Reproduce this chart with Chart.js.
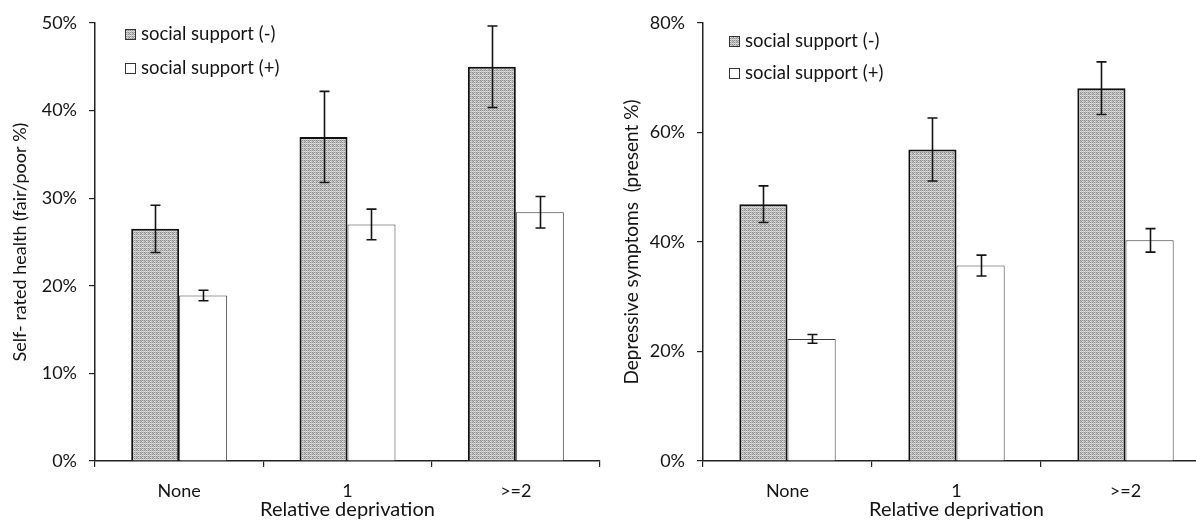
<!DOCTYPE html>
<html>
<head>
<meta charset="utf-8">
<script src="https://cdn.jsdelivr.net/npm/chart.js@4.4.1/dist/chart.umd.min.js"></script>
<style>
  html, body { margin: 0; padding: 0; background: #ffffff; overflow: hidden; }
  body { width: 1196px; height: 522px; position: relative; }
  canvas { position: absolute; top: 0; }
  #health { left: 0; }
  #depress { left: 600px; }
</style>
</head>
<body>
<canvas id="health" width="604" height="522"></canvas>
<canvas id="depress" width="614" height="522"></canvas>
<script>
// Categories of relative deprivation
const categories = ['None', '1', '>=2'];
const seriesNames = ['social support (-)', 'social support (+)'];

// Self-rated health (fair/poor %), means and error half-widths
const healthLow = [26.5, 37.0, 45.0];
const healthLowErr = [2.7, 5.2, 4.65];
const healthHigh = [18.9, 27.0, 28.4];
const healthHighErr = [0.6, 1.75, 1.8];

// Depressive symptoms (present %), means and error half-widths
const depLow = [46.9, 56.9, 68.1];
const depLowErr = [3.35, 5.75, 4.8];
const depHigh = [22.3, 35.7, 40.3];
const depHighErr = [0.8, 1.9, 2.15];

// Y tick values
const healthTicks = [0, 10, 20, 30, 40, 50];
const depTicks = [0, 20, 40, 60, 80];

const FONT = 'Lato, "Open Sans", sans-serif';
const INK = '#141414';

// Stippled grey fill used for the "(-)" bars (ordered-dither tile)
function stipple() {
  const bayer = [[0, 8, 2, 10], [12, 4, 14, 6], [3, 11, 1, 9], [15, 7, 13, 5]];
  const c = document.createElement('canvas');
  c.width = 4; c.height = 4;
  const g = c.getContext('2d');
  for (let y = 0; y < 4; y++) {
    for (let x = 0; x < 4; x++) {
      const t = bayer[y][x];
      g.fillStyle = t < 5 ? '#8e8e8e' : (t > 12 ? '#e4e4e4' : '#c3c3c3');
      g.fillRect(x, y, 1, 1);
    }
  }
  return g.createPattern(c, 'repeat');
}
const grey = stipple();

// Error bars with caps, drawn from each bar's value and its half-width
const errorBars = {
  id: 'errorBars',
  afterDatasetsDraw(chart) {
    const ctx = chart.ctx;
    const ys = chart.scales.y;
    ctx.save();
    ctx.strokeStyle = INK;
    ctx.lineWidth = 1.6;
    chart.data.datasets.forEach((ds, i) => {
      const meta = chart.getDatasetMeta(i);
      meta.data.forEach((bar, j) => {
        const v = ds.data[j], e = ds.errors[j];
        const top = ys.getPixelForValue(v + e);
        const bot = ys.getPixelForValue(v - e);
        const x = Math.round(bar.x) + 0.5;
        ctx.beginPath();
        ctx.moveTo(x, top); ctx.lineTo(x, bot);
        ctx.moveTo(x - 5, top); ctx.lineTo(x + 5, top);
        ctx.moveTo(x - 5, bot); ctx.lineTo(x + 5, bot);
        ctx.stroke();
      });
    });
    ctx.restore();
  }
};

// Legend placed inside the plot area
const boxLegend = {
  id: 'boxLegend',
  afterDraw(chart, args, opts) {
    const ctx = chart.ctx;
    const a = chart.chartArea;
    ctx.save();
    ctx.font = '18.5px ' + FONT;
    ctx.textBaseline = 'middle';
    chart.data.datasets.forEach((ds, i) => {
      const x = a.left + opts.dx;
      const y = a.top + opts.dy + i * opts.gap;
      ctx.fillStyle = ds.backgroundColor;
      ctx.fillRect(x, y, 10, 10);
      ctx.lineWidth = 1;
      ctx.strokeStyle = '#333';
      ctx.strokeRect(x + 0.5, y + 0.5, 10, 10);
      ctx.fillStyle = INK;
      ctx.fillText(ds.label, x + 16, y + 5);
    });
    ctx.restore();
  }
};

function makeChart(id, low, lowErr, high, highErr, ticks, yTitle, titleSize, axisWidth, titlePad, legendPos) {
  const tickMax = ticks[ticks.length - 1];
  const step = ticks[1] - ticks[0];
  return new Chart(document.getElementById(id), {
    type: 'bar',
    data: {
      labels: categories,
      datasets: [
        { label: seriesNames[0], data: low, errors: lowErr, backgroundColor: grey,
          borderColor: '#111', borderWidth: 2, borderSkipped: 'start' },
        { label: seriesNames[1], data: high, errors: highErr, backgroundColor: '#ffffff',
          borderColor: '#3a3a3a', borderWidth: 1, borderSkipped: 'start' }
      ]
    },
    options: {
      responsive: false,
      animation: false,
      events: [],
      layout: { padding: { top: 23, right: 4, left: 0, bottom: 0 } },
      datasets: { bar: { categoryPercentage: 0.57, barPercentage: 1.0 } },
      plugins: {
        legend: { display: false },
        tooltip: { enabled: false },
        boxLegend: legendPos
      },
      scales: {
        x: {
          offset: true,
          grid: { offset: true, drawOnChartArea: false, drawTicks: true, tickLength: 6, color: '#222', lineWidth: 1.2 },
          border: { display: true, color: '#222', width: 1.5 },
          ticks: { color: INK, font: { family: FONT, size: 18 }, padding: 13 },
          title: { display: true, text: 'Relative deprivation', color: INK,
                   font: { family: FONT, size: 20 }, padding: { top: 0, bottom: 0 } },
          afterFit(scale) { scale.height = 61; }
        },
        y: {
          min: 0, max: tickMax,
          afterBuildTicks(scale) { scale.ticks = ticks.map(v => ({ value: v })); },
          grid: { drawOnChartArea: false, drawTicks: true, tickLength: 6, color: '#222', lineWidth: 1.2 },
          border: { display: true, color: '#222', width: 1.5 },
          ticks: { color: INK, font: { family: FONT, size: 18 }, padding: 12, stepSize: step,
                   callback: v => v + '%' },
          title: { display: true, text: yTitle, color: INK,
                   font: { family: FONT, size: titleSize }, padding: { top: titlePad, bottom: 0 } },
          afterFit(scale) { scale.width = axisWidth; }
        }
      }
    },
    plugins: [errorBars, boxLegend]
  });
}

makeChart('health', healthLow, healthLowErr, healthHigh, healthHighErr, healthTicks,
  'Self- rated health (fair/poor %)', 18, 95, 9, { dx: 30, dy: 6, gap: 34 });
makeChart('depress', depLow, depLowErr, depHigh, depHighErr, depTicks,
  'Depressive symptoms  (present %)', 19, 103, 20, { dx: 26, dy: 13, gap: 32 });
</script>
</body>
</html>
